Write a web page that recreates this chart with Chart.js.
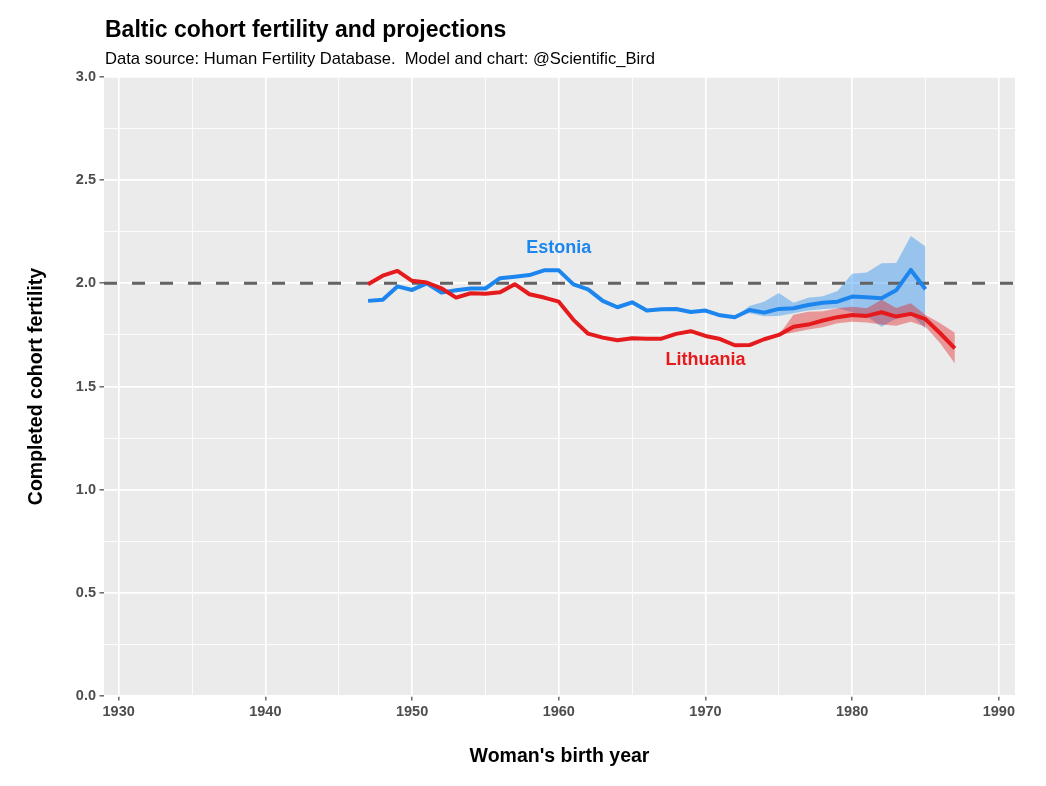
<!DOCTYPE html>
<html><head><meta charset="utf-8">
<script src="https://cdn.jsdelivr.net/npm/chart.js@4.4.1/dist/chart.umd.min.js"></script>
<style>html,body{margin:0;padding:0;background:#fff}#wrap{width:1046px;height:786px}</style>
</head><body><div id="wrap"><canvas id="c" width="1046" height="786"></canvas></div>
<script>
// ---- data ----
const estoniaYears = [1947,1948,1949,1950,1951,1952,1953,1954,1955,1956,1957,1958,1959,1960,1961,1962,1963,1964,1965,1966,1967,1968,1969,1970,1971,1972,1973,1974,1975,1976,1977,1978,1979,1980,1981,1982,1983,1984,1985];
const estoniaValues = [1.915,1.92,1.985,1.968,2.0,1.955,1.966,1.975,1.975,2.025,2.032,2.04,2.063,2.063,1.995,1.971,1.915,1.884,1.908,1.868,1.874,1.876,1.861,1.868,1.845,1.836,1.871,1.858,1.876,1.879,1.895,1.906,1.911,1.936,1.932,1.928,1.966,2.065,1.971];
const lithuaniaYears = [1947,1948,1949,1950,1951,1952,1953,1954,1955,1956,1957,1958,1959,1960,1961,1962,1963,1964,1965,1966,1967,1968,1969,1970,1971,1972,1973,1974,1975,1976,1977,1978,1979,1980,1981,1982,1983,1984,1985,1986,1987];
const lithuaniaValues = [1.996,2.037,2.06,2.012,2.004,1.976,1.931,1.952,1.95,1.957,1.996,1.947,1.931,1.911,1.823,1.756,1.737,1.724,1.734,1.731,1.732,1.755,1.768,1.745,1.730,1.70,1.701,1.729,1.75,1.79,1.80,1.82,1.836,1.847,1.842,1.86,1.839,1.852,1.826,1.758,1.685];

const estoniaBandYears = [1972,1973,1974,1975,1976,1977,1978,1979,1980,1981,1982,1983,1984,1985];
const estoniaLower = [1.836,1.855,1.84,1.842,1.855,1.868,1.874,1.88,1.86,1.84,1.79,1.83,1.85,1.78];
const estoniaUpper = [1.836,1.89,1.911,1.953,1.906,1.93,1.937,1.963,2.047,2.052,2.097,2.098,2.23,2.178];

const lithuaniaBandYears = [1975,1976,1977,1978,1979,1980,1981,1982,1983,1984,1985,1986,1987];
const lithuaniaLower = [1.75,1.762,1.776,1.787,1.807,1.814,1.81,1.80,1.795,1.814,1.79,1.71,1.612];
const lithuaniaUpper = [1.75,1.848,1.862,1.865,1.879,1.887,1.879,1.92,1.88,1.903,1.847,1.807,1.76];

const replacementLevel = 2.0;
const xLimits = [1929.0, 1991.1];
const yLimits = [0, 3];
const xTicks = [1930,1935,1940,1945,1950,1955,1960,1965,1970,1975,1980,1985,1990];
const yTicks = [0,0.25,0.5,0.75,1.0,1.25,1.5,1.75,2.0,2.25,2.5,2.75,3.0];
const seriesLabels = [
  {text:'Estonia', x:1960, y:2.17},
  {text:'Lithuania', x:1970, y:1.63}
];

// ---- styling ----
const FONT = '"Liberation Sans", Arial, Helvetica, sans-serif';
const BLUE = '#1C86EE';
const RED = '#E41A1C';
const BLUE_BAND = 'rgba(28,134,238,0.4)';
const RED_BAND = 'rgba(228,26,28,0.4)';

const pts = (xs, ys) => xs.map((x, i) => ({x, y: ys[i]}));
const isMajorX = v => Math.abs(v % 10) < 1e-9;
const isMajorY = v => Math.abs(v * 2 - Math.round(v * 2)) < 1e-9;

const panelBg = {
  id: 'panelBg',
  beforeDraw(chart) {
    const {ctx, chartArea: a} = chart;
    ctx.save();
    ctx.fillStyle = '#EBEBEB';
    ctx.fillRect(a.left, a.top, a.right - a.left, a.bottom - a.top);
    ctx.restore();
  }
};

const texts = {
  id: 'texts',
  afterDraw(chart) {
    const {ctx} = chart;
    const xs = chart.scales.x, ys = chart.scales.y;
    ctx.save();
    ctx.fillStyle = '#000';
    ctx.textAlign = 'left';
    ctx.textBaseline = 'alphabetic';
    ctx.font = 'bold 23px ' + FONT;
    ctx.fillText('Baltic cohort fertility and projections', 105, 37);
    ctx.font = '16.6px ' + FONT;
    ctx.fillText('Data source: Human Fertility Database.  Model and chart: @Scientific_Bird', 105, 64);
    ctx.textAlign = 'center';
    ctx.textBaseline = 'middle';
    ctx.font = 'bold 18px ' + FONT;
    seriesLabels.forEach((l, i) => {
      ctx.fillStyle = i === 0 ? BLUE : RED;
      ctx.fillText(l.text, xs.getPixelForValue(l.x), ys.getPixelForValue(l.y));
    });
    ctx.restore();
  }
};

const lineBase = {pointRadius: 0, tension: 0, borderJoinStyle: 'round', borderCapStyle: 'butt'};

new Chart(document.getElementById('c'), {
  type: 'line',
  data: {
    datasets: [
      Object.assign({}, lineBase, {label:'eeLo', data: pts(estoniaBandYears, estoniaLower), borderWidth: 0, borderColor: 'rgba(0,0,0,0)', fill: false, order: 5}),
      Object.assign({}, lineBase, {label:'eeHi', data: pts(estoniaBandYears, estoniaUpper), borderWidth: 0, borderColor: 'rgba(0,0,0,0)', backgroundColor: BLUE_BAND, fill: {target: 0}, order: 5}),
      Object.assign({}, lineBase, {label:'ltLo', data: pts(lithuaniaBandYears, lithuaniaLower), borderWidth: 0, borderColor: 'rgba(0,0,0,0)', fill: false, order: 4}),
      Object.assign({}, lineBase, {label:'ltHi', data: pts(lithuaniaBandYears, lithuaniaUpper), borderWidth: 0, borderColor: 'rgba(0,0,0,0)', backgroundColor: RED_BAND, fill: {target: 2}, order: 4}),
      Object.assign({}, lineBase, {label:'ref', data: [{x: xLimits[0], y: replacementLevel}, {x: xLimits[1], y: replacementLevel}], borderWidth: 3, borderColor: '#636363', borderDash: [13, 15], fill: false, order: 3}),
      Object.assign({}, lineBase, {label:'Estonia', data: pts(estoniaYears, estoniaValues), borderWidth: 4, borderColor: BLUE, fill: false, order: 1}),
      Object.assign({}, lineBase, {label:'Lithuania', data: pts(lithuaniaYears, lithuaniaValues), borderWidth: 4, borderColor: RED, fill: false, order: 0})
    ]
  },
  options: {
    responsive: false,
    animation: false,
    events: [],
    layout: {padding: {top: 77, right: 31, bottom: 0, left: 0}},
    plugins: {legend: {display: false}, tooltip: {enabled: false}, title: {display: false}},
    scales: {
      x: {
        type: 'linear', min: xLimits[0], max: xLimits[1],
        afterBuildTicks: s => { s.ticks = xTicks.map(v => ({value: v})); },
        afterFit: s => { s.height = 90; },
        border: {display: false},
        grid: {
          color: '#FFFFFF',
          lineWidth: c => (c.tick && isMajorX(c.tick.value)) ? 1.7 : 0.85,
          tickColor: c => (c.tick && isMajorX(c.tick.value)) ? '#333333' : 'rgba(0,0,0,0)',
          tickWidth: 1.1, tickLength: 4.5, drawTicks: true
        },
        ticks: {
          autoSkip: false, maxRotation: 0, minRotation: 0, padding: 2.8, color: '#4D4D4D',
          font: {family: FONT, size: 14.5, weight: 'bold'},
          callback: v => isMajorX(v) ? String(v) : ''
        },
        title: {display: true, text: "Woman's birth year", color: '#000', font: {family: FONT, size: 19.5, weight: 'bold'}, padding: {top: 0, bottom: 18}}
      },
      y: {
        type: 'linear', min: yLimits[0], max: yLimits[1],
        afterBuildTicks: s => { s.ticks = yTicks.map(v => ({value: v})); },
        afterFit: s => { s.width = 104; },
        border: {display: false},
        grid: {
          color: '#FFFFFF',
          lineWidth: c => (c.tick && isMajorY(c.tick.value)) ? 1.7 : 0.85,
          tickColor: c => (c.tick && isMajorY(c.tick.value)) ? '#333333' : 'rgba(0,0,0,0)',
          tickWidth: 1.1, tickLength: 4.5, drawTicks: true
        },
        ticks: {
          autoSkip: false, padding: 3.5, color: '#4D4D4D',
          font: {family: FONT, size: 14.5, weight: 'bold'},
          callback: v => isMajorY(v) ? v.toFixed(1) : ''
        },
        title: {display: true, text: 'Completed cohort fertility', color: '#000', font: {family: FONT, size: 19.5, weight: 'bold'}, padding: {top: 25, bottom: 0}}
      }
    }
  },
  plugins: [panelBg, texts]
});
</script>
</body></html>
